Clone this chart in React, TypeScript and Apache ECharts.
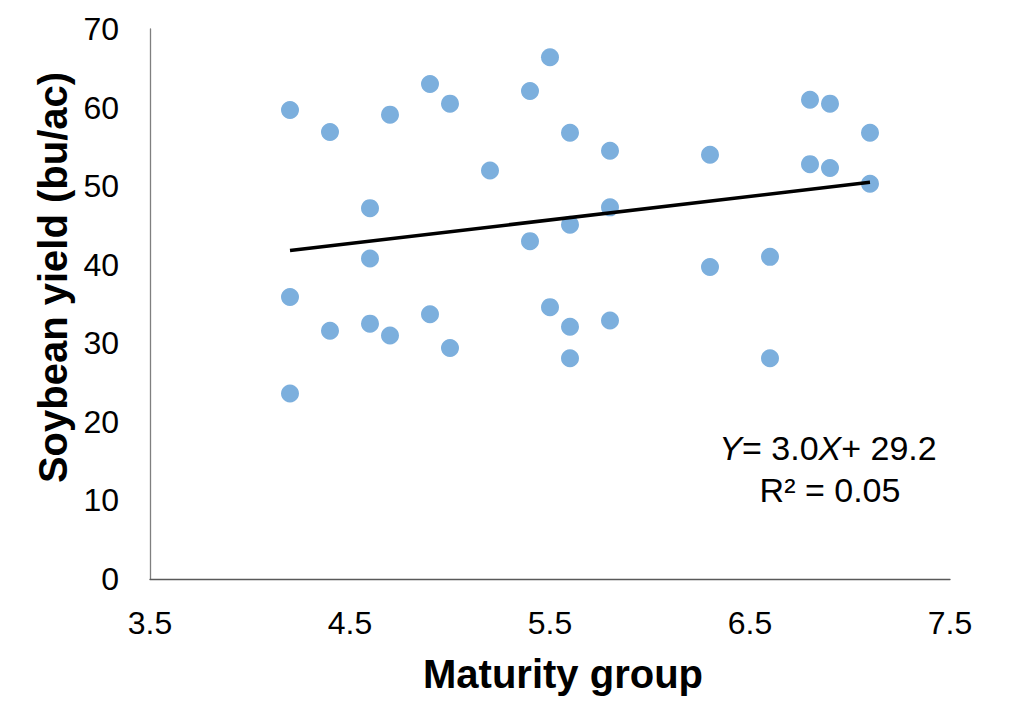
import React, { useEffect, useRef } from "react";
import * as echarts from "echarts";

// Maturity group (x) and soybean yield in bu/ac (y)
const maturityGroup: number[] = [
  4.2, 4.2, 4.2,
  4.4, 4.4,
  4.6, 4.6, 4.6,
  4.7, 4.7,
  4.9, 4.9,
  5.0, 5.0,
  5.2,
  5.4, 5.4,
  5.5, 5.5,
  5.6, 5.6, 5.6, 5.6,
  5.8, 5.8, 5.8,
  6.3, 6.3,
  6.6, 6.6,
  6.8, 6.8,
  6.9, 6.9,
  7.1, 7.1,
];
const soybeanYield: number[] = [
  59.7, 35.9, 23.6,
  56.9, 31.6,
  47.2, 40.8, 32.5,
  59.1, 31.0,
  63.0, 33.7,
  60.5, 29.4,
  52.0,
  62.1, 43.0,
  66.4, 34.6,
  56.8, 45.1, 32.1, 28.1,
  54.5, 47.3, 32.9,
  54.0, 39.7,
  41.0, 28.1,
  61.0, 52.8,
  60.5, 52.3,
  56.8, 50.3,
];

// Linear trend line endpoints (Y = 3.0X + 29.2)
const trendX: number[] = [4.2, 7.1];
const trendY: number[] = [41.8, 50.5];

const xTicks = { min: 3.5, max: 7.5, interval: 1 };
const yTicks = { min: 0, max: 70, interval: 10 };

const equationLine = "{i|Y}= 3.0{i|X}+ 29.2";
const r2Line = "R² = 0.05";
const xTitle = "Maturity group";
const yTitle = "Soybean yield (bu/ac)";

const FONT = "Liberation Sans, Arial, sans-serif";

export default function App() {
  const ref = useRef<HTMLDivElement>(null);

  useEffect(() => {
    if (!ref.current) return;
    const chart = echarts.init(ref.current, undefined, { renderer: "svg" });
    const points = maturityGroup.map((x, i) => [x, soybeanYield[i]]);
    const trend = trendX.map((x, i) => [x, trendY[i]]);

    chart.setOption({
      animation: false,
      backgroundColor: "#ffffff",
      textStyle: { fontFamily: FONT },
      grid: { left: 150, right: 74, top: 29, bottom: 136 },
      xAxis: {
        type: "value",
        min: xTicks.min,
        max: xTicks.max,
        interval: xTicks.interval,
        name: xTitle,
        nameLocation: "middle",
        nameGap: 75,
        nameTextStyle: {
          fontFamily: FONT,
          fontSize: 40,
          fontWeight: "bold",
          color: "#000",
          padding: [0, 0, 0, 26],
        },
        axisLine: { show: true, onZero: false, lineStyle: { color: "#595959", width: 1.3 } },
        axisTick: { show: false },
        splitLine: { show: false },
        axisLabel: { fontFamily: FONT, fontSize: 32, color: "#000", margin: 28 },
      },
      yAxis: {
        type: "value",
        min: yTicks.min,
        max: yTicks.max,
        interval: yTicks.interval,
        name: yTitle,
        nameLocation: "middle",
        nameGap: 70,
        nameTextStyle: {
          fontFamily: FONT,
          fontSize: 40,
          fontWeight: "bold",
          color: "#000",
          padding: [0, 0, 0, 53],
        },
        axisLine: { show: true, lineStyle: { color: "#7f7f7f", width: 1.3 } },
        axisTick: { show: false },
        splitLine: { show: false },
        axisLabel: { fontFamily: FONT, fontSize: 32, color: "#000", margin: 31 },
      },
      series: [
        {
          type: "scatter",
          data: points,
          symbol: "circle",
          symbolSize: 18,
          itemStyle: { color: "#5b9bd5" },
          z: 2,
        },
        {
          type: "line",
          data: trend,
          symbol: "none",
          lineStyle: { color: "#000", width: 3.5 },
          z: 3,
        },
      ],
      graphic: [
        {
          type: "text",
          x: 828,
          y: 448,
          style: {
            text: equationLine,
            font: `34px ${FONT}`,
            fill: "#000",
            align: "center",
            verticalAlign: "middle",
            rich: {
              i: { fontStyle: "italic", fontSize: 34, fontFamily: FONT, fill: "#000" },
            },
          },
        },
        {
          type: "text",
          x: 830,
          y: 490,
          style: {
            text: r2Line,
            font: `34px ${FONT}`,
            fill: "#000",
            align: "center",
            verticalAlign: "middle",
          },
        },
      ],
    });

    return () => chart.dispose();
  }, []);

  return (
    <div
      ref={ref}
      style={{ position: "fixed", left: 0, top: 0, width: 1024, height: 715 }}
    />
  );
}
